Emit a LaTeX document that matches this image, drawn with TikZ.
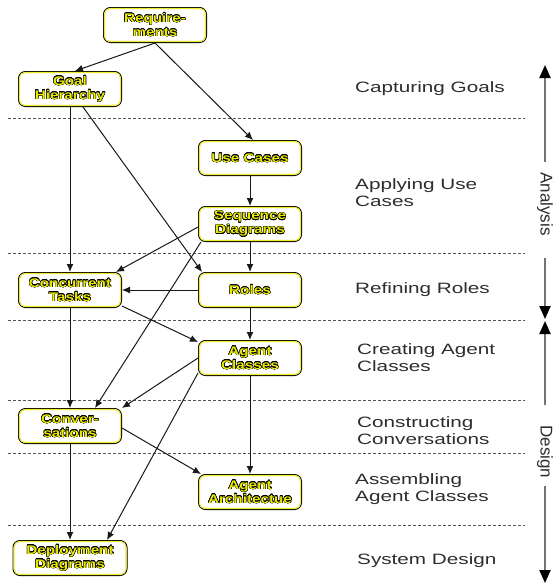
\documentclass[tikz,border=0pt]{standalone}
\usepackage{fontspec}
\usepackage[copies]{contour}
\usetikzlibrary{arrows.meta}

\newfontfamily\boxfont[FakeStretch=1.22]{Liberation Sans}
\newfontfamily\stagefont[FakeStretch=1.38]{Liberation Sans}
\newfontfamily\axisfont{Liberation Sans}

\definecolor{boxtext}{RGB}{235,235,0}
\definecolor{rimyellow}{RGB}{236,236,40}
\definecolor{edgecol}{RGB}{25,25,25}
\definecolor{stagecol}{RGB}{45,45,45}
\definecolor{axiscol}{RGB}{115,115,115}
\definecolor{dashcol}{RGB}{85,85,85}

\contourlength{0.38pt}
\contournumber{16}
\newcommand\ytxt[1]{\contour{black}{#1}}

\tikzset{
  box/.style={draw=black, line width=1pt, fill=white, rounded corners=7pt,
    minimum width=103pt, minimum height=35pt, align=center, inner sep=2pt,
    text=boxtext, font={\boxfont\bfseries\fontsize{12.5pt}{14pt}\selectfont}},
  rim/.style={draw=rimyellow, line width=1.1pt, rounded corners=5.5pt},
  flow/.style={draw=edgecol, line width=1pt, -{Latex[length=8pt,width=7pt]}},
  phase/.style={draw=dashcol, line width=0.8pt, dash pattern=on 3pt off 2pt},
  stage/.style={anchor=west, align=left, text=stagecol, inner sep=0pt,
    font={\stagefont\fontsize{15pt}{17pt}\selectfont}},
  axislabel/.style={rotate=-90, text=stagecol, inner sep=0pt,
    font={\axisfont\fontsize{17pt}{17pt}\selectfont}},
  axisline/.style={draw=axiscol, line width=2pt,
    -{Triangle[length=13pt,width=11pt,color=black]}},
}

\begin{document}
\begin{tikzpicture}[x=1pt,y=-1pt]
\path[use as bounding box] (0,0) rectangle (553,584);

% phase separators
\foreach \y in {118,253,320,400,453,525}
  \draw[phase] (8,\y) -- (525,\y);

% process steps
\node[box] (req)  at (155,25)  {\ytxt{Require-}\\\ytxt{ments}};
\node[box] (goal) at (70,89)   {\ytxt{Goal}\\\ytxt{Hierarchy}};
\node[box] (uc)   at (250,158) {\ytxt{Use Cases}};
\node[box] (sd)   at (250,224) {\ytxt{Sequence}\\\ytxt{Diagrams}};
\node[box] (ct)   at (70,290)  {\ytxt{Concurrent}\\\ytxt{Tasks}};
\node[box] (roles) at (250,290) {\ytxt{Roles}};
\node[box] (ac)   at (250,358) {\ytxt{Agent}\\\ytxt{Classes}};
\node[box] (conv) at (70,426)  {\ytxt{Conver-}\\\ytxt{sations}};
\node[box] (aa)   at (250,492) {\ytxt{Agent}\\\ytxt{Architectue}};
\node[box, minimum width=114pt] (dd) at (70,558) {\ytxt{Deployment}\\\ytxt{Diagrams}};

% inner yellow rim of each box
\foreach \n in {req,goal,uc,sd,ct,roles,ac,conv,aa,dd}
  \draw[rim] ([shift={(1.5pt,-1.5pt)}]\n.north west)
    rectangle ([shift={(-1.5pt,1.5pt)}]\n.south east);

% dependencies
\draw[flow] (req.south) -- ([xshift=5pt]goal.north);
\draw[flow] (req.south) -- ([xshift=3pt]uc.north);
\draw[flow] (goal.south) -- (ct.north);
\draw[flow] ([xshift=13pt]goal.south) -- ([xshift=4pt]roles.north west);
\draw[flow] (uc.south) -- (sd.north);
\draw[flow] ([yshift=-3pt]sd.west) -- ([xshift=-6pt]ct.north east);
\draw[flow] (sd.south) -- (roles.north);
\draw[flow] ([xshift=3pt]sd.south west) -- ([xshift=25pt]conv.north);
\draw[flow] (roles.west) -- (ct.east);
\draw[flow] (roles.south) -- (ac.north);
\draw[flow] ([yshift=2pt]ct.south east) -- ([yshift=-2pt]ac.north west);
\draw[flow] (ct.south) -- (conv.north);
\draw[flow] (ac.west) -- (conv.north east);
\draw[flow] ([yshift=3pt]ac.south west) -- ([xshift=37pt]dd.north);
\draw[flow] (ac.south) -- (aa.north);
\draw[flow] ([yshift=-2pt]conv.east) -- ([xshift=3pt]aa.north west);
\draw[flow] (conv.south) -- (dd.north);

% stage names
\node[stage] (s1) at (355,89)    {Capturing Goals};
\node[stage] (s2) at (355,192.5) {Applying Use\\Cases};
\node[stage] (s3) at (355,290)   {Refining Roles};
\node[stage] (s4) at (357,357.5) {Creating Agent\\Classes};
\node[stage] (s5) at (357,430.5) {Constructing\\Conversations};
\node[stage] (s6) at (355,489)   {Assembling\\Agent Classes};
\node[stage] (s7) at (357,561)   {System Design};

% analysis / design ranges
\node[axislabel] (analysis) at (545,204) {Analysis};
\node[axislabel] (design)   at (545,452) {Design};
\coordinate (aTop) at (545,65);
\coordinate (aBot) at (545,319);
\coordinate (dTop) at (545,321);
\coordinate (dBot) at (545,583);
\draw[axisline, shorten <=10pt] (analysis.west) -- (aTop);
\draw[axisline, shorten <=22pt] (analysis.east) -- (aBot);
\draw[axisline, shorten <=20pt] (design.west) -- (dTop);
\draw[axisline, shorten <=7pt] (design.east) -- (dBot);
\end{tikzpicture}
\end{document}
